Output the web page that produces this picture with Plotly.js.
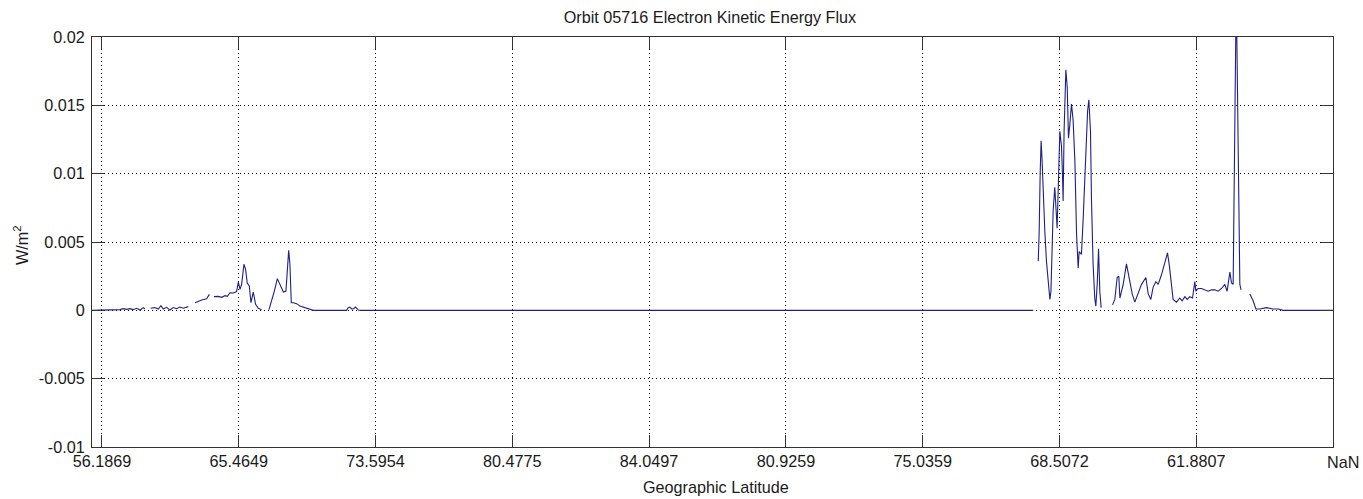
<!DOCTYPE html>
<html>
<head>
<meta charset="utf-8">
<script src="https://cdn.plot.ly/plotly-3.0.1.min.js"></script>
<style>html,body{margin:0;padding:0;background:#fff;}#chart{width:1363px;height:499px;}</style>
</head>
<body>
<div id="chart"></div>
<script>
// ---- data (x in tick-interval units, sample positions) ----
const tickPositions = [0, 1, 2, 3, 4, 5, 6, 7, 8, 9];
const tickLabels = ['56.1869', '65.4649', '73.5954', '80.4775', '84.0497', '80.9259', '75.0359', '68.5072', '61.8807', 'NaN'];
const yTickVals = [-0.01, -0.005, 0, 0.005, 0.01, 0.015, 0.02];
const yTickLabels = ['-0.01', '-0.005', '0', '0.005', '0.01', '0.015', '0.02'];

const sampleX = [
  -0.073, 0.132, 0.156, 0.180, 0.205, 0.229, 0.253, 0.278, 0.302, 0.314, 0.33,
  0.356, 0.387, 0.412, 0.431, 0.448, 0.473, 0.497, 0.521, 0.546, 0.570, 0.595, 0.631, 0.65,
  0.680, 0.704, 0.729, 0.765, 0.785, 0.80,
  0.819, 0.850, 0.875, 0.899, 0.916, 0.936, 0.960, 0.984, 0.997, 1.009, 1.021, 1.038, 1.050, 1.062, 1.077, 1.089, 1.106, 1.123, 1.143, 1.167, 1.19,
  1.221, 1.240, 1.260, 1.282, 1.301, 1.326, 1.345, 1.355, 1.365, 1.374, 1.384, 1.399, 1.423, 1.447, 1.472, 1.496, 1.520, 1.545, 1.788, 1.800, 1.813, 1.825, 1.837, 1.854, 1.874, 1.898, 6.808, 6.83,
  6.845, 6.852, 6.859, 6.866, 6.873, 6.880, 6.893, 6.905, 6.918, 6.930, 6.938, 6.954, 6.966, 6.983, 7.003, 7.015, 7.022, 7.027, 7.034, 7.047, 7.057, 7.066, 7.076, 7.088, 7.100, 7.113, 7.125, 7.137, 7.144, 7.161, 7.174, 7.193, 7.206, 7.215, 7.227, 7.234, 7.246, 7.258, 7.266, 7.276, 7.286, 7.295, 7.305, 7.35,
  7.388, 7.405, 7.422, 7.434, 7.442, 7.466, 7.490, 7.510, 7.532, 7.551, 7.576, 7.600, 7.632, 7.649, 7.668, 7.685, 7.705, 7.722, 7.746, 7.770, 7.790, 7.802, 7.819, 7.831, 7.856, 7.880, 7.897, 7.917, 7.934, 7.953, 7.973, 7.990, 7.997, 8.014, 8.038, 8.063, 8.087, 8.112, 8.136, 8.160, 8.185, 8.209, 8.226, 8.246, 8.258, 8.270, 8.277, 8.285, 8.289, 8.297, 8.302, 8.309, 8.319, 8.328, 8.36,
  8.392, 8.416, 8.436, 8.465, 8.514, 8.562, 8.599, 8.635, 9.0
];
const fluxVals = [
  0, 0.00005, 0.00012, 0.00007, 0.00012, 0.00005, 0.00015, 0.00002, 0.0002, 0.0001, null,
  0.00015, 0.0002, 0.0001, 0.00034, 0.0001, 0.00022, 0.00002, 0.0002, 0.00012, 0.00024, 0.00015, 0.00027, null,
  0.00056, 0.00068, 0.00076, 0.00085, 0.00117, null,
  0.001, 0.00102, 0.00095, 0.00107, 0.00102, 0.00129, 0.00127, 0.00137, 0.00207, 0.00154, 0.0019, 0.00337, 0.003, 0.002, 0.00178, 0.00056, 0.00134, 0.00044, 0.00015, 0.00005, null,
  0.00005, 0.00068, 0.00141, 0.00232, 0.0019, 0.00134, 0.00141, 0.00337, 0.0044, 0.00337, 0.00056, 0.00056, 0.00049, 0.00032, 0.00024, 0.00015, 0.00007, 0, 0, 0.0002, 0.00024, 0.0001, 0.0001, 0.00024, 0.00002, 0, 0, null,
  0.0036, 0.0058, 0.0100, 0.0124, 0.0110, 0.0085, 0.0058, 0.0036, 0.0024, 0.0008, 0.0014, 0.0073, 0.0090, 0.0060, 0.0131, 0.0120, 0.0100, 0.0080, 0.0131, 0.0176, 0.0163, 0.0126, 0.0136, 0.0151, 0.0139, 0.0109, 0.0056, 0.0031, 0.0043, 0.0041, 0.0068, 0.0112, 0.0146, 0.0154, 0.0131, 0.0082, 0.0034, 0.0009, 0.0003, 0.0019, 0.0045, 0.0014, 0.0002, null,
  0.0004, 0.0008, 0.0024, 0.0025, 0.0009, 0.0019, 0.0034, 0.0024, 0.0012, 0.0006, 0.0012, 0.0019, 0.0024, 0.0012, 0.0008, 0.0017, 0.0021, 0.0019, 0.0026, 0.0034, 0.0042, 0.0034, 0.0017, 0.0008, 0.0006, 0.0009, 0.0007, 0.0010, 0.0008, 0.0010, 0.0009, 0.0021, 0.0014, 0.0016, 0.0016, 0.0015, 0.0014, 0.0015, 0.0015, 0.0014, 0.0016, 0.0019, 0.0014, 0.0028, 0.0020, 0.0019, 0.0107, 0.0180, 0.0200, 0.0200, 0.0156, 0.0064, 0.0019, 0.0015, null,
  0.0012, 0.0007, 0.0001, 0.0001, 0.0002, 0.0001, 0.0001, 0, 0
];

// ---- font choice ----
function hasFont(name) {
  const c = document.createElement('canvas').getContext('2d');
  const s = '56.1869 Geographic Latitude';
  c.font = '20px monospace';
  const a = c.measureText(s).width;
  c.font = '20px "' + name + '", monospace';
  const b = c.measureText(s).width;
  return Math.abs(a - b) > 0.5;
}
const narrow = hasFont('Liberation Sans Narrow');
const FAMILY = narrow ? '"Liberation Sans Narrow", "Liberation Sans", Arial, sans-serif' : '"Liberation Sans", Arial, sans-serif';
const FS = narrow ? 19 : 16.2;
const TXT = '#1a1a1a';
const font = {family: FAMILY, size: FS, color: TXT};

const trace = {
  x: sampleX,
  y: fluxVals,
  type: 'scatter',
  mode: 'lines',
  connectgaps: false,
  line: {color: '#1f1f8a', width: 1.1},
  hoverinfo: 'skip'
};

const axisCommon = {
  showline: true,
  linecolor: '#333333',
  linewidth: 1,
  mirror: 'ticks',
  ticks: 'inside',
  ticklen: 12,
  tickcolor: '#333333',
  tickwidth: 1,
  showgrid: true,
  gridcolor: '#000000',
  gridwidth: 1,
  griddash: '1px,3px',
  zeroline: false,
  tickfont: font
};

const nLast = tickPositions.length - 1;
const layout = {
  width: 1363,
  height: 499,
  margin: {l: 92, r: 30, t: 37, b: 52},
  paper_bgcolor: '#ffffff',
  plot_bgcolor: '#ffffff',
  showlegend: false,
  title: {
    text: 'Orbit 05716 Electron Kinetic Energy Flux',
    font: font,
    x: 710 / 1363, xref: 'container', xanchor: 'center',
    y: 1 - 17 / 499, yref: 'container', yanchor: 'middle'
  },
  xaxis: Object.assign({}, axisCommon, {
    range: [-0.073, 9],
    tickmode: 'array',
    tickvals: tickPositions.slice(0, nLast),
    ticktext: tickLabels.slice(0, nLast)
  }),
  yaxis: Object.assign({}, axisCommon, {
    range: [-0.01, 0.02],
    tickmode: 'array',
    tickvals: yTickVals,
    ticktext: yTickLabels,
    ticklabelstandoff: 3
  }),
  annotations: [
    {
      text: tickLabels[nLast],
      xref: 'x', x: tickPositions[nLast],
      yref: 'paper', y: 0, yanchor: 'top', xanchor: 'center',
      xshift: 10, yshift: -4,
      showarrow: false, font: font
    },
    {
      text: 'Geographic Latitude',
      xref: 'x', x: 4.5, xshift: -1,
      yref: 'paper', y: (447 - 487) / 410, yanchor: 'middle', xanchor: 'center',
      showarrow: false, font: font
    },
    {
      text: 'W/m<sup>2</sup>',
      textangle: -90,
      xref: 'paper', x: (21 - 92) / 1241, xanchor: 'center',
      yref: 'paper', y: (447 - 245) / 410, yanchor: 'middle',
      showarrow: false, font: font
    }
  ]
};

Plotly.newPlot('chart', [trace], layout, {staticPlot: true, displayModeBar: false});
</script>
</body>
</html>
